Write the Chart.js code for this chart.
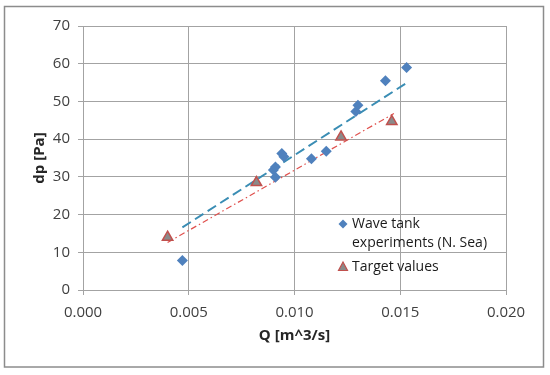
<!DOCTYPE html>
<html>
<head>
<meta charset="utf-8">
<script src="https://cdn.jsdelivr.net/npm/chart.js@4/dist/chart.umd.min.js"></script>
<style>
  html, body { margin: 0; padding: 0; background: #ffffff; }
  #wrap { width: 550px; height: 375px; position: relative; }
</style>
</head>
<body>
<div id="wrap"><canvas id="c" width="550" height="375"></canvas></div>
<script>
// ---- data ----
const waveLabel = "Wave tank experiments (N. Sea)";
const waveLegendLines = ["Wave tank", "experiments (N. Sea)"];
const waveQ  = [0.0047, 0.0090, 0.0091, 0.0091, 0.0094, 0.0095, 0.0108, 0.0115, 0.0129, 0.0130, 0.0143, 0.0153];
const waveDp = [7.8,    31.8,   32.6,   29.9,   36.2,   35.3,   34.8,   36.8,   47.3,   49.0,   55.5,   59.0];

const targetLabel = "Target values";
const targetQ  = [0.0040, 0.0082, 0.0122, 0.0146];
const targetDp = [14.0,   28.5,   40.6,   44.7];

// linear trendlines (end points)
const waveTrendQ  = [0.0047, 0.0153];
const waveTrendDp = [16.6,   54.9];
const targetTrendQ  = [0.0040, 0.0147];
const targetTrendDp = [12.6,   46.8];

const xTitle = "Q [m^3/s]";
const yTitle = "dp [Pa]";

const pts = (xs, ys) => xs.map((x, i) => ({ x: x, y: ys[i] }));

const FONT = "'Open Sans', 'Liberation Sans', sans-serif";
const GRID = '#a3a3a3';

const frameAndLegend = {
  id: 'frameAndLegend',
  beforeDraw(chart) {
    const ctx = chart.ctx;
    ctx.save();
    ctx.fillStyle = '#ffffff';
    ctx.fillRect(0, 0, chart.width, chart.height);
    ctx.restore();
  },
  afterDraw(chart) {
    const ctx = chart.ctx;
    ctx.save();
    // outer frame
    ctx.strokeStyle = '#8c8c8c';
    ctx.lineWidth = 1.5;
    ctx.strokeRect(4.5, 6.5, 539, 360.5);
    // legend
    ctx.font = '14px ' + FONT;
    ctx.textBaseline = 'middle';
    ctx.textAlign = 'left';
    const lx = 343, tx = 352;
    // diamond
    ctx.fillStyle = '#4F81BD';
    ctx.beginPath();
    ctx.moveTo(lx, 224 - 4.5); ctx.lineTo(lx + 4.5, 224); ctx.lineTo(lx, 224 + 4.5); ctx.lineTo(lx - 4.5, 224);
    ctx.closePath(); ctx.fill();
    ctx.fillStyle = '#1a1a1a';
    ctx.fillText(waveLegendLines[0], tx, 224);
    ctx.fillText(waveLegendLines[1], tx, 243.5);
    // triangle
    ctx.fillStyle = '#8a8a8a';
    ctx.strokeStyle = '#C0504D';
    ctx.lineWidth = 1.2;
    ctx.beginPath();
    ctx.moveTo(lx, 267 - 5); ctx.lineTo(lx + 4.5, 267 + 3.5); ctx.lineTo(lx - 4.5, 267 + 3.5);
    ctx.closePath(); ctx.fill(); ctx.stroke();
    ctx.fillStyle = '#1a1a1a';
    ctx.fillText(targetLabel, tx, 267);
    ctx.restore();
  }
};

new Chart(document.getElementById('c'), {
  type: 'scatter',
  data: {
    datasets: [
      {
        label: waveLabel + ' trend',
        data: pts(waveTrendQ, waveTrendDp),
        showLine: true,
        borderColor: '#3A8DB4',
        borderWidth: 2,
        borderDash: [10, 5],
        pointRadius: 0,
        fill: false,
        order: 3
      },
      {
        label: targetLabel + ' trend',
        data: pts(targetTrendQ, targetTrendDp),
        showLine: true,
        borderColor: '#E0504D',
        borderWidth: 1.2,
        borderDash: [6, 3, 1.5, 3],
        pointRadius: 0,
        fill: false,
        order: 4
      },
      {
        label: waveLabel,
        data: pts(waveQ, waveDp),
        pointStyle: 'rectRot',
        pointRadius: 5.5,
        backgroundColor: '#4F81BD',
        borderColor: '#4F81BD',
        borderWidth: 0,
        order: 1
      },
      {
        label: targetLabel,
        data: pts(targetQ, targetDp),
        pointStyle: 'triangle',
        pointRadius: 6,
        backgroundColor: '#8a8a8a',
        borderColor: '#C0504D',
        borderWidth: 1.5,
        order: 2
      }
    ]
  },
  options: {
    responsive: false,
    animation: false,
    events: [],
    layout: { padding: { left: 0, top: 26, right: 44, bottom: 0 } },
    plugins: {
      legend: { display: false },
      tooltip: { enabled: false }
    },
    scales: {
      x: {
        type: 'linear',
        min: 0, max: 0.02,
        ticks: {
          stepSize: 0.005,
          color: '#404040',
          font: { family: FONT, size: 15 },
          padding: 9,
          callback: v => Number(v).toFixed(3)
        },
        grid: { color: GRID, lineWidth: 1, tickLength: 5, drawTicks: true },
        border: { color: GRID, width: 1 },
        title: {
          display: true, text: xTitle, color: '#262626',
          font: { family: FONT, size: 15, weight: 'bold' },
          padding: { top: 0, bottom: 30 }
        },
        afterFit: s => { s.height = 85; }
      },
      y: {
        type: 'linear',
        min: 0, max: 70,
        ticks: {
          stepSize: 10,
          color: '#404040',
          font: { family: FONT, size: 15 },
          padding: 8
        },
        grid: { color: GRID, lineWidth: 1, tickLength: 5, drawTicks: true },
        border: { color: GRID, width: 1 },
        title: {
          display: true, text: yTitle, color: '#262626',
          font: { family: FONT, size: 15, weight: 'bold' },
          padding: { top: 31, bottom: 0 }
        },
        afterFit: s => { s.width = 83; }
      }
    }
  },
  plugins: [frameAndLegend]
});
</script>
</body>
</html>
